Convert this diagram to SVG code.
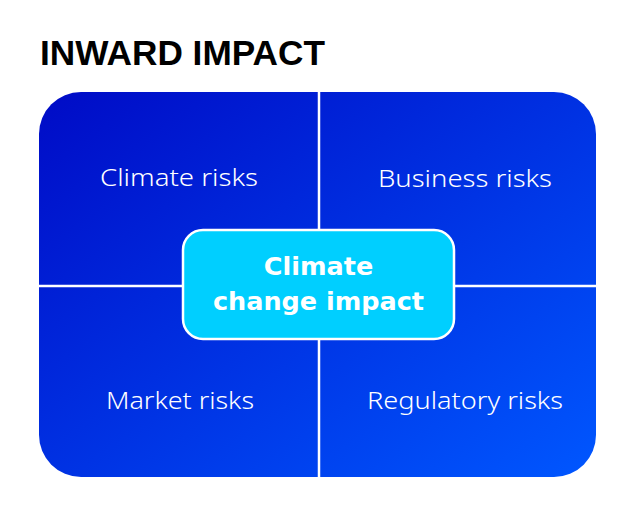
<svg xmlns="http://www.w3.org/2000/svg" width="640" height="513" viewBox="0 0 640 513">
  <defs>
    <linearGradient id="bg" x1="0" y1="0" x2="1" y2="1">
      <stop offset="0" stop-color="#000bc6"/>
      <stop offset="1" stop-color="#0057ff"/>
    </linearGradient>
  </defs>
  <style>
    .title { font-family: "Liberation Sans", Arial, sans-serif; font-weight: 700; font-size: 35px; fill: #000; }
    .label { font-family: "Noto Sans", "DejaVu Sans", sans-serif; font-weight: 300; font-size: 24px; fill: #fff; text-anchor: middle; }
    .center { font-family: "DejaVu Sans", "Liberation Sans", sans-serif; font-weight: 700; font-size: 25.5px; fill: #fff; text-anchor: middle; }
    .divider { stroke: #fff; stroke-width: 2.5; fill: none; }
  </style>
  <rect width="640" height="513" fill="#fff"/>
  <text id="title" class="title" x="40" y="65" textLength="285" lengthAdjust="spacingAndGlyphs">INWARD IMPACT</text>
  <g id="panel">
    <rect x="39" y="92" width="557" height="385" rx="42" ry="42" fill="url(#bg)"/>
  </g>
  <g id="connectors">
    <line class="divider" x1="319" y1="92" x2="319" y2="477"/>
    <line class="divider" x1="39" y1="286" x2="596" y2="286"/>
  </g>
  <g id="climate-risks">
    <text class="label" x="179" y="186" textLength="158" lengthAdjust="spacingAndGlyphs">Climate risks</text>
  </g>
  <g id="business-risks">
    <text class="label" x="465" y="187" textLength="174" lengthAdjust="spacingAndGlyphs">Business risks</text>
  </g>
  <g id="market-risks">
    <text class="label" x="180" y="409" textLength="148" lengthAdjust="spacingAndGlyphs">Market risks</text>
  </g>
  <g id="regulatory-risks">
    <text class="label" x="465" y="409" textLength="196" lengthAdjust="spacingAndGlyphs">Regulatory risks</text>
  </g>
  <g id="climate-change-impact">
    <rect x="183" y="230" width="271" height="109" rx="20" ry="20" fill="#00cfff" stroke="#fff" stroke-width="2.5"/>
    <text class="center" x="318.5" y="275">Climate</text>
    <text class="center" x="318.5" y="310">change impact</text>
  </g>
</svg>
